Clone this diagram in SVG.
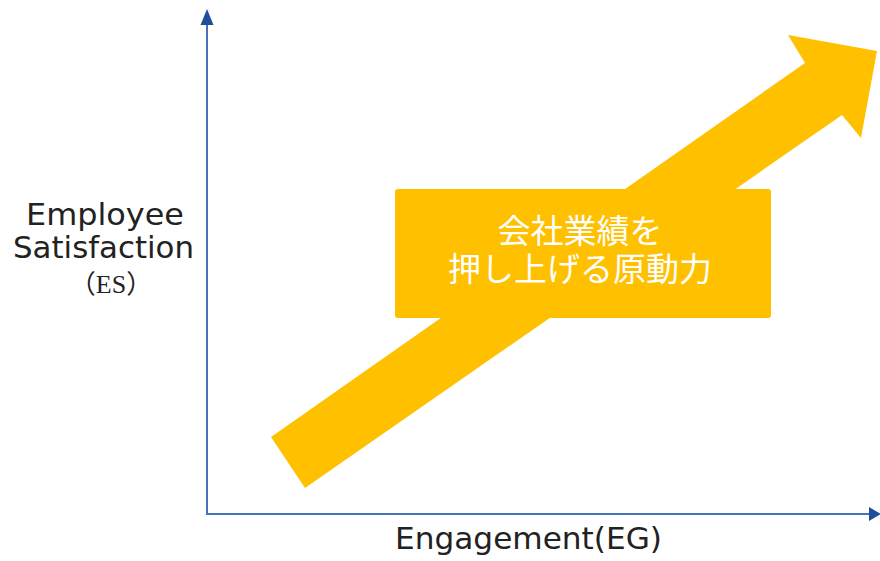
<svg xmlns="http://www.w3.org/2000/svg" width="880" height="561" viewBox="0 0 880 561">
<style>
.axis{stroke:#4672B8;stroke-width:2;fill:none}
.head{fill:#1F4E9A}
.lbl{font-family:"DejaVu Sans","Noto Sans",sans-serif;font-size:31px;fill:#222}
.jp{font-family:"Noto Sans CJK JP",sans-serif;font-size:33px;fill:#fff;text-anchor:middle}
.gold{fill:#FFC000}
</style>
<rect width="880" height="561" fill="#fff"/>
<g id="connectors">
<line class="axis" x1="207" y1="22" x2="207" y2="514"/>
<line class="axis" x1="206" y1="514" x2="872" y2="514"/>
<polygon class="head" points="200.5,25 207,9 213.5,25"/>
<polygon class="head" points="869,507 881,514 869,521"/>
</g>
<g id="arrow">
<polygon class="gold" points="271,437 805,63 788,35 877,51 861,138 842,115 305,488"/>
</g>
<g id="box">
<rect class="gold" x="395" y="189" width="376" height="129" rx="3"/>
<text class="jp"><tspan x="580" y="243">会社業績を</tspan><tspan x="580" y="281">押し上げる原動力</tspan></text>
</g>
<g id="ylabel">
<text class="lbl" x="26" y="225" textLength="158" lengthAdjust="spacingAndGlyphs">Employee</text>
<text class="lbl" x="13" y="258" textLength="181" lengthAdjust="spacingAndGlyphs">Satisfaction</text>
<text x="111" y="293" text-anchor="middle" style="font-family:'Liberation Serif','Noto Sans CJK JP',serif;font-size:26px;fill:#222">（ES）</text>
</g>
<g id="xlabel">
<text class="lbl" x="395" y="549" textLength="267" lengthAdjust="spacingAndGlyphs">Engagement(EG)</text>
</g>
</svg>
